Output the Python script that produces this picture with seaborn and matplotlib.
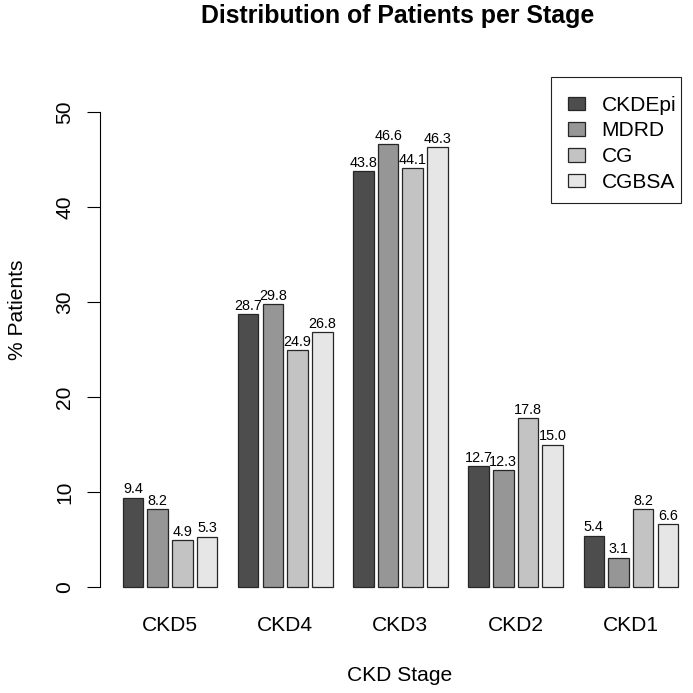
import numpy as np
import pandas as pd
import matplotlib
matplotlib.use("Agg")
import matplotlib.pyplot as plt
from matplotlib.patches import Patch, Rectangle
import seaborn as sns

stages = ["CKD5", "CKD4", "CKD3", "CKD2", "CKD1"]
formulas = ["CKDEpi", "MDRD", "CG", "CGBSA"]
ckdepi = [9.4, 28.7, 43.8, 12.7, 5.4]
mdrd = [8.2, 29.8, 46.6, 12.3, 3.1]
cg = [4.9, 24.9, 44.1, 17.8, 8.2]
cgbsa = [5.3, 26.8, 46.3, 15.0, 6.6]
greys = ["#4D4D4D", "#969696", "#C3C3C3", "#E6E6E6"]

df = pd.DataFrame({
    "stage": stages * 4,
    "formula": np.repeat(formulas, len(stages)),
    "pct": ckdepi + mdrd + cg + cgbsa,
})

sns.set_style("white")
plt.rcParams["font.family"] = ["Liberation Sans", "DejaVu Sans"]
plt.rcParams["text.color"] = "black"
plt.rcParams["axes.labelcolor"] = "black"
plt.rcParams["xtick.color"] = "black"
plt.rcParams["ytick.color"] = "black"

W = H = 693
fig = plt.figure(figsize=(6.93, 6.93), dpi=100)
# plot region in pixels: x 100..698, y 74..606 (y=0 at 587)
ax = fig.add_axes([100 / W, (H - 606) / H, 598 / W, 532 / H])

sns.barplot(data=df, x="stage", y="pct", hue="formula", order=stages,
            hue_order=formulas, palette=greys, width=0.857, gap=0.1667,
            edgecolor="#262626", linewidth=0.9, legend=False, ax=ax)

for cont in ax.containers:
    ax.bar_label(cont, fmt="%.1f", padding=1, fontsize=10.4, color="black")

ax.set_xlim(-0.6076, 4.583)
ax.set_ylim(-2, 54)
ax.set_yticks(range(0, 51, 10))
for s in ["top", "right", "bottom"]:
    ax.spines[s].set_visible(False)
ax.spines["left"].set_bounds(0, 50)
ax.spines["left"].set_color("black")
ax.spines["left"].set_linewidth(0.8)
ax.tick_params(axis="y", length=9.4, width=0.8, color="black", pad=9,
               labelsize=15.1, labelrotation=90, left=True)
for t in ax.get_yticklabels():
    t.set_va("center")
ax.tick_params(axis="x", length=0, pad=7, labelsize=15.1)

ax.set_xlabel("CKD Stage", fontsize=15.1)
ax.xaxis.set_label_coords(0.5017, -0.113)
ax.set_ylabel("% Patients", fontsize=15.1)
ax.yaxis.set_label_coords(-0.122, (606 - 310) / 532)

fig.text(398 / W, 1 - 16 / H, "Distribution of Patients per Stage",
         ha="center", va="center", fontsize=17.9, fontweight="bold")

# legend box drawn by hand so it can be narrower than matplotlib's padding
fig.patches.append(Rectangle((551 / W, 1 - 203 / H), 130 / W, 126 / H,
                             transform=fig.transFigure, fill=False,
                             edgecolor="#222222", linewidth=0.8))
handles = [Patch(facecolor=c, edgecolor="#262626", linewidth=0.9) for c in greys]
ax.legend(handles, formulas, loc="upper left",
          bbox_to_anchor=(553 / W, 1 - 81 / H), bbox_transform=fig.transFigure,
          fontsize=15.1, frameon=False, borderpad=0.7, borderaxespad=0,
          handlelength=0.81, handleheight=0.62, handletextpad=0.8,
          labelspacing=0.32)

fig.savefig("out.png", dpi=100)
